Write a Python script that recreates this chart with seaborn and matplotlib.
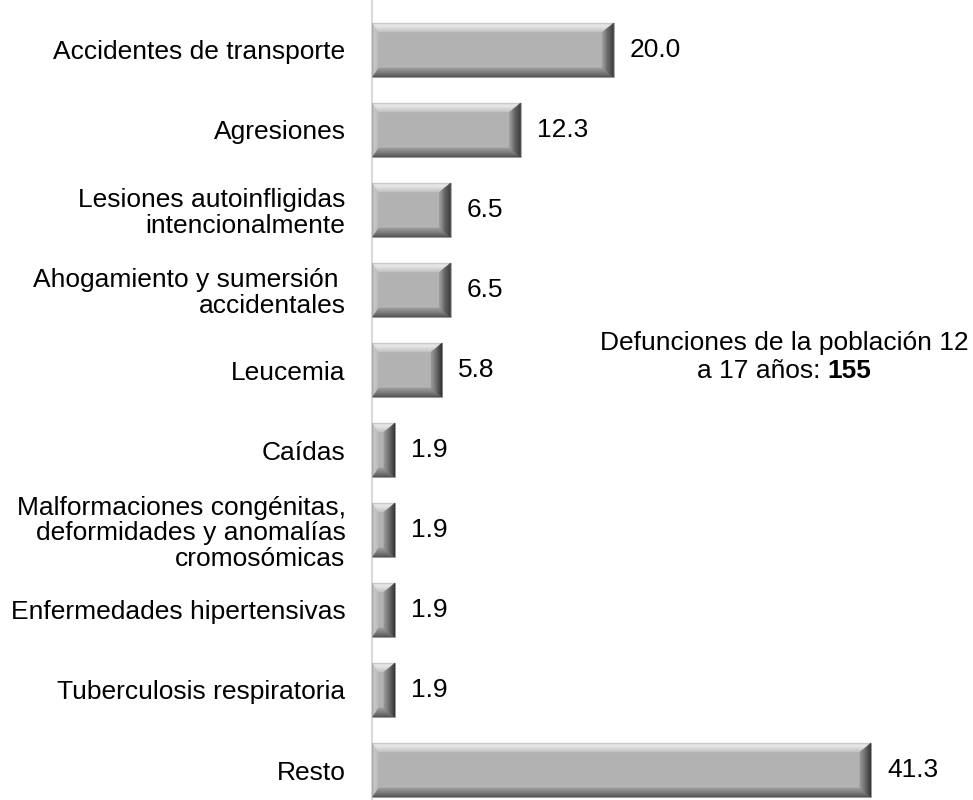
import matplotlib
matplotlib.use("Agg")
import matplotlib.pyplot as plt
from matplotlib.patches import Polygon
from matplotlib.colors import to_rgb
import numpy as np
import seaborn as sns
import pandas as pd

categories = [
    "Accidentes de transporte",
    "Agresiones",
    "Lesiones autoinfligidas\nintencionalmente",
    "Ahogamiento y sumersión \naccidentales",
    "Leucemia",
    "Caídas",
    "Malformaciones congénitas,\ndeformidades y anomalías\ncromosómicas",
    "Enfermedades hipertensivas",
    "Tuberculosis respiratoria",
    "Resto",
]
values = [20.0, 12.3, 6.5, 6.5, 5.8, 1.9, 1.9, 1.9, 1.9, 41.3]
value_labels = ["20.0", "12.3", "6.5", "6.5", "5.8", "1.9", "1.9", "1.9", "1.9", "41.3"]
note_line1 = "Defunciones de la población 12"
note_line2_prefix = "a 17 años: "
note_total = "155"

sns.set_theme(style="white")
plt.rcParams["font.family"] = ["Liberation Sans", "DejaVu Sans"]

df = pd.DataFrame({"cat": categories, "val": values})

W_PX, H_PX = 973, 800
AX_LEFT_PX = 372
fig = plt.figure(figsize=(W_PX / 100, H_PX / 100), dpi=100)
ax = fig.add_axes([AX_LEFT_PX / W_PX, 0.0, 1 - AX_LEFT_PX / W_PX, 1.0])

FACE = "#b2b2b2"
sns.barplot(data=df, y="cat", x="val", orient="h", color=FACE,
            width=0.675, saturation=1, ax=ax, edgecolor="#9a9a9a", linewidth=0.5)

XMAX = 49.75
ax.set_xlim(0, XMAX)
ax.set_ylim(9.375, -0.625)
ax.set_xlabel("")
ax.set_ylabel("")
ax.set_xticks([])
ax.tick_params(axis="y", length=0, pad=19, labelsize=19, labelcolor="#000000")
for lbl in ax.get_yticklabels():
    lbl.set_linespacing(1.1)
    lbl.set_horizontalalignment("right")
    lbl.set_multialignment("right")

for s in ["top", "right", "bottom"]:
    ax.spines[s].set_visible(False)
ax.spines["left"].set_color("#d9d9d9")
ax.spines["left"].set_linewidth(1.5)

# bevel overlays computed from bar geometry (gradient bands)
px_x = XMAX / (W_PX - AX_LEFT_PX)
px_y = 10.0 / H_PX
BEV = {"left": 6, "right": 11, "top": 9, "bottom": 9}
STOPS = {
    "top": [(0.0, "#bdbdbd"), (0.3, "#f0f0f0"), (1.0, "#c2c2c2")],
    "bottom": [(0.0, "#4e4e4e"), (0.4, "#6e6e6e"), (1.0, "#9c9c9c")],
    "left": [(0.0, "#9a9a9a"), (0.4, "#c9c9c9"), (1.0, "#bcbcbc")],
    "right": [(0.0, "#2e2e2e"), (0.4, "#555555"), (1.0, "#9a9a9a")],
}


def interp(side, t):
    st = STOPS[side]
    for (t0, c0), (t1, c1) in zip(st[:-1], st[1:]):
        if t <= t1:
            f = (t - t0) / (t1 - t0) if t1 > t0 else 0
            return tuple(np.array(to_rgb(c0)) * (1 - f) + np.array(to_rgb(c1)) * f)
    return to_rgb(st[-1][1])


NB = 10
for p in ax.patches:
    x0 = p.get_x()
    w = p.get_width()
    ya = p.get_y()
    h = p.get_height()
    x1 = x0 + w
    yb = ya + h
    L = BEV["left"] * px_x
    R = BEV["right"] * px_x
    if L + R > w * 0.98:
        sc = w * 0.98 / (L + R)
        L *= sc
        R *= sc
    T = BEV["top"] * px_y
    B = BEV["bottom"] * px_y
    for i in range(NB):
        s0, s1 = i / NB, (i + 1) / NB
        tm = (s0 + s1) / 2
        o = (x0 + s0 * L, x1 - s0 * R, ya + s0 * T, yb - s0 * B)
        n = (x0 + s1 * L, x1 - s1 * R, ya + s1 * T, yb - s1 * B)
        top = [(o[0], o[2]), (o[1], o[2]), (n[1], n[2]), (n[0], n[2])]
        bottom = [(o[0], o[3]), (o[1], o[3]), (n[1], n[3]), (n[0], n[3])]
        left = [(o[0], o[2]), (n[0], n[2]), (n[0], n[3]), (o[0], o[3])]
        right = [(o[1], o[2]), (n[1], n[2]), (n[1], n[3]), (o[1], o[3])]
        for poly, side in [(top, "top"), (bottom, "bottom"), (left, "left"), (right, "right")]:
            c = interp(side, tm)
            ax.add_patch(Polygon(poly, closed=True, facecolor=c, edgecolor=c,
                                 linewidth=0.3, zorder=3))

ax.bar_label(ax.containers[0], labels=value_labels, padding=11.5, fontsize=19, color="#000000")

# note text
cx = 784 / W_PX
fig.text(cx, 1 - 343 / H_PX, note_line1, ha="center", va="center", fontsize=19, color="#000000")
fig.canvas.draw()
r = fig.canvas.get_renderer()
ta = fig.text(0, 1 - 371 / H_PX, note_line2_prefix, ha="left", va="center", fontsize=19, color="#000000")
tb = fig.text(0, 1 - 371 / H_PX, note_total, ha="left", va="center", fontsize=19,
              fontweight="bold", color="#000000")
wa = ta.get_window_extent(r).width / W_PX
wb = tb.get_window_extent(r).width / W_PX
start = cx - (wa + wb) / 2
ta.set_x(start)
tb.set_x(start + wa)

fig.savefig("out.png", dpi=100, facecolor="white")
